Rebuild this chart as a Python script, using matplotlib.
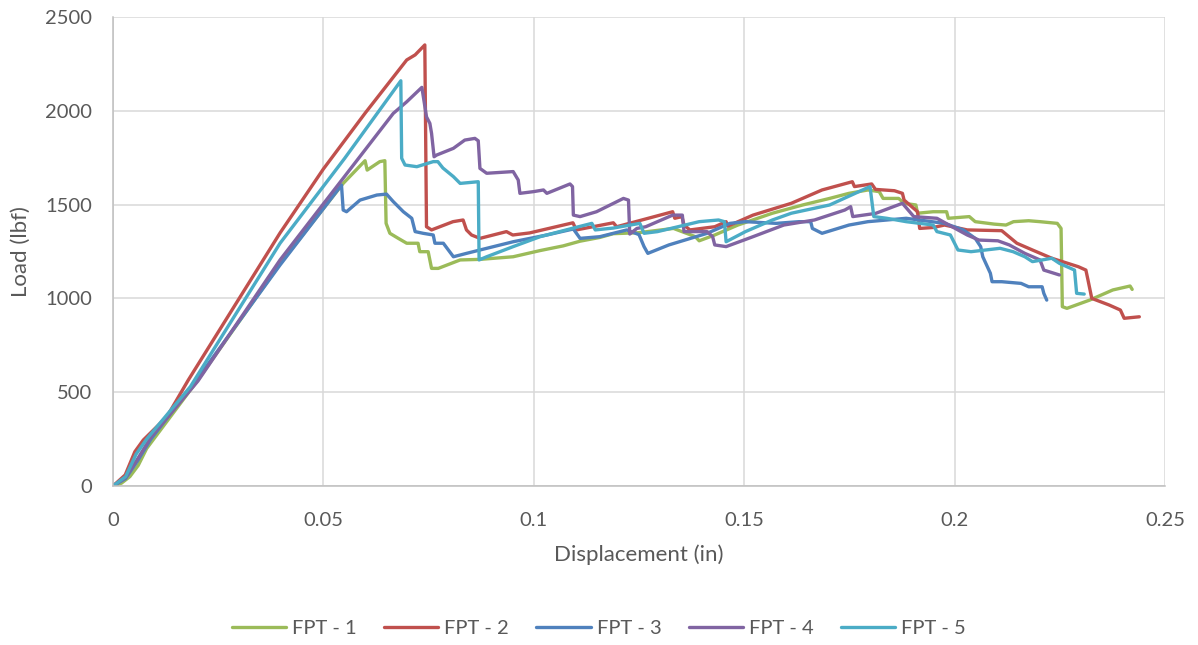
import matplotlib
matplotlib.use("Agg")
import matplotlib.pyplot as plt

# Данные (смещение в дюймах, нагрузка в lbf)
fpt1_x = [0, 0.002, 0.004, 0.006, 0.008, 0.010, 0.020, 0.0397, 0.0547, 0.0599, 0.0604, 0.0634, 0.0646,
          0.0649, 0.0658, 0.0678, 0.0698, 0.0725, 0.0729, 0.0749, 0.0757, 0.0773, 0.0825, 0.0872, 0.0951,
          0.1015, 0.1070, 0.1110, 0.1157, 0.1189, 0.1248, 0.1332, 0.1384, 0.1393, 0.1430, 0.1485, 0.1567,
          0.1639, 0.1703, 0.1749, 0.1794, 0.1821, 0.1830, 0.1867, 0.1880, 0.1908, 0.1912, 0.1949, 0.1981,
          0.1985, 0.2035, 0.2049, 0.2094, 0.2122, 0.2140, 0.2176, 0.2203, 0.2244, 0.2253, 0.2256, 0.2267,
          0.2321, 0.2376, 0.2417, 0.2422]
fpt1_y = [0, 15, 50, 110, 200, 260, 560, 1185, 1613, 1734, 1684, 1729, 1734,
          1400, 1347, 1320, 1294, 1294, 1249, 1249, 1160, 1160, 1205, 1208, 1222,
          1255, 1280, 1305, 1325, 1345, 1350, 1373, 1329, 1307, 1338, 1391, 1454,
          1498, 1533, 1560, 1578, 1569, 1533, 1533, 1507, 1498, 1454, 1462, 1462,
          1427, 1436, 1409, 1396, 1391, 1409, 1414, 1409, 1400, 1373, 956, 947,
          991, 1045, 1066, 1048]

fpt2_x = [0, 0.0029, 0.0052, 0.0072, 0.0128, 0.0179, 0.0397, 0.0500, 0.0600, 0.0698, 0.0718, 0.0741,
          0.0745, 0.0757, 0.0808, 0.0832, 0.0840, 0.0852, 0.0872, 0.0935, 0.0950, 0.0990, 0.1093, 0.1101,
          0.1189, 0.1197, 0.1330, 0.1335, 0.1352, 0.1357, 0.1371, 0.1430, 0.1457, 0.1461, 0.1521, 0.1612,
          0.1685, 0.1757, 0.1762, 0.1803, 0.1812, 0.1857, 0.1876, 0.1880, 0.1912, 0.1917, 0.1949, 0.1976,
          0.2030, 0.2112, 0.2148, 0.2185, 0.2231, 0.2294, 0.2312, 0.2317, 0.2326, 0.2367, 0.2394, 0.2403,
          0.2439]
fpt2_y = [0, 59, 183, 245, 369, 565, 1349, 1690, 1990, 2271, 2298, 2351,
          1382, 1365, 1409, 1418, 1365, 1338, 1320, 1356, 1338, 1349, 1403, 1365,
          1403, 1382, 1462, 1427, 1436, 1391, 1365, 1382, 1409, 1385, 1444, 1507,
          1578, 1622, 1596, 1610, 1581, 1574, 1560, 1524, 1462, 1373, 1378, 1391,
          1365, 1361, 1294, 1258, 1214, 1169, 1151, 1098, 1000, 965, 938, 894,
          902]

fpt3_x = [0, 0.003, 0.006, 0.009, 0.020, 0.0397, 0.0543, 0.0547, 0.0555, 0.0587, 0.0627, 0.0650,
          0.0666, 0.0690, 0.0710, 0.0718, 0.0737, 0.0761, 0.0765, 0.0785, 0.0809, 0.0840, 0.0872, 0.0951,
          0.1031, 0.1094, 0.1110, 0.1157, 0.1221, 0.1250, 0.1262, 0.1271, 0.1321, 0.1412, 0.1466, 0.1503,
          0.1576, 0.1630, 0.1658, 0.1662, 0.1685, 0.1749, 0.1794, 0.1885, 0.1976, 0.2021, 0.2049, 0.2062,
          0.2067, 0.2085, 0.2089, 0.2112, 0.2158, 0.2176, 0.2208, 0.2212, 0.2219]
fpt3_y = [0, 40, 140, 250, 570, 1178, 1604, 1471, 1462, 1524, 1551, 1556,
          1516, 1462, 1427, 1356, 1347, 1338, 1294, 1294, 1222, 1240, 1258, 1302,
          1338, 1370, 1320, 1329, 1365, 1340, 1276, 1240, 1285, 1347, 1400, 1409,
          1400, 1409, 1409, 1373, 1347, 1391, 1409, 1427, 1400, 1365, 1320, 1276,
          1222, 1134, 1089, 1089, 1080, 1062, 1062, 1027, 991]

fpt4_x = [0, 0.003, 0.006, 0.009, 0.0202, 0.0397, 0.0666, 0.0698, 0.0734, 0.0745, 0.0753, 0.0757,
          0.0763, 0.0769, 0.0809, 0.0836, 0.0860, 0.0868, 0.0872, 0.0888, 0.0951, 0.0963, 0.0967, 0.0999,
          0.1023, 0.1031, 0.1086, 0.1092, 0.1094, 0.1110, 0.1149, 0.1213, 0.1225, 0.1228, 0.1245, 0.1266,
          0.1330, 0.1353, 0.1357, 0.1412, 0.1425, 0.1430, 0.1457, 0.1521, 0.1594, 0.1667, 0.1739, 0.1753,
          0.1758, 0.1812, 0.1876, 0.1903, 0.1958, 0.1994, 0.2030, 0.2058, 0.2103, 0.2130, 0.2167, 0.2203,
          0.2212, 0.2249]
fpt4_y = [0, 45, 150, 260, 560, 1205, 1986, 2048, 2125, 1968, 1933, 1880,
          1755, 1764, 1800, 1844, 1853, 1840, 1693, 1667, 1676, 1631, 1560, 1569,
          1578, 1560, 1610, 1596, 1444, 1436, 1462, 1533, 1524, 1343, 1373, 1382,
          1444, 1444, 1356, 1356, 1329, 1285, 1276, 1329, 1391, 1418, 1471, 1489,
          1436, 1453, 1507, 1436, 1427, 1382, 1338, 1311, 1307, 1285, 1240, 1205,
          1151, 1125]

fpt5_x = [0, 0.003, 0.0055, 0.008, 0.0184, 0.0397, 0.0550, 0.0684, 0.0686, 0.0694, 0.0722, 0.0761,
          0.0772, 0.0784, 0.0809, 0.0825, 0.0868, 0.0870, 0.0888, 0.0951, 0.1015, 0.1094, 0.1138, 0.1146,
          0.1189, 0.1252, 0.1262, 0.1294, 0.1393, 0.1439, 0.1453, 0.1457, 0.1503, 0.1567, 0.1612, 0.1703,
          0.1799, 0.1808, 0.1839, 0.1885, 0.1949, 0.1958, 0.1990, 0.2008, 0.2039, 0.2108, 0.2139, 0.2167,
          0.2185, 0.2231, 0.2249, 0.2285, 0.2290, 0.2308]
fpt5_y = [0, 50, 170, 250, 530, 1294, 1745, 2160, 1747, 1711, 1702, 1729,
          1729, 1695, 1649, 1613, 1622, 1205, 1222, 1276, 1329, 1375, 1400, 1365,
          1375, 1400, 1347, 1356, 1409, 1418, 1409, 1302, 1356, 1418, 1454, 1498,
          1596, 1436, 1427, 1409, 1391, 1356, 1338, 1258, 1249, 1267, 1249, 1222,
          1196, 1214, 1187, 1151, 1027, 1023]

labels = ['FPT - 1', 'FPT - 2', 'FPT - 3', 'FPT - 4', 'FPT - 5']
colors = ['#9BBB59', '#C0504D', '#4F81BD', '#8064A2', '#4BACC6']
series = [(fpt1_x, fpt1_y), (fpt2_x, fpt2_y), (fpt3_x, fpt3_y), (fpt4_x, fpt4_y), (fpt5_x, fpt5_y)]

plt.rcParams['font.family'] = ['Lato', 'DejaVu Sans']
text_col = '#595959'

fig = plt.figure(figsize=(11.98, 6.45), dpi=100)
ax = fig.add_axes([113 / 1198, 1 - 486 / 645, (1165 - 113) / 1198, (486 - 17) / 645])

for (x, y), lab, c in zip(series, labels, colors):
    ax.plot(x, y, color=c, lw=2.4, label=lab, solid_joinstyle='round', solid_capstyle='round')

ax.set_xlim(0, 0.25)
ax.set_ylim(0, 2500)
ax.set_xticks([0, 0.05, 0.1, 0.15, 0.2, 0.25])
ax.set_xticklabels(['0', '0.05', '0.1', '0.15', '0.2', '0.25'])
ax.set_yticks([0, 500, 1000, 1500, 2000, 2500])
ax.grid(True, color='#D9D9D9', lw=1.1)
ax.set_axisbelow(True)
for s in ['top', 'right']:
    ax.spines[s].set_visible(False)
for s in ['left', 'bottom']:
    ax.spines[s].set_color('#BFBFBF')
    ax.spines[s].set_linewidth(1.1)
ax.tick_params(length=0, labelsize=14.5, labelcolor=text_col)
ax.tick_params(axis='x', pad=19)
ax.tick_params(axis='y', pad=15)
ax.set_xlabel('Displacement (in)', fontsize=16, color=text_col, labelpad=11)
ax.set_ylabel('Load (lbf)', fontsize=16, color=text_col, labelpad=10)

fig.legend(loc='center', bbox_to_anchor=(0.5, 0.026), ncol=5, frameon=False,
           fontsize=14.5, handlelength=2.7, handletextpad=0.3, columnspacing=1.35,
           labelcolor=text_col)

fig.savefig('out.png', dpi=100)
